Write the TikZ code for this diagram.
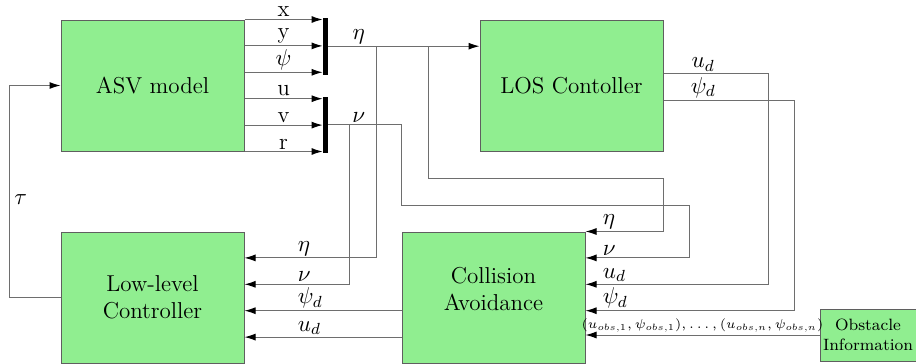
\RequirePackage{fix-cm}
\documentclass[tikz,border=0pt]{standalone}
\usepackage{amsmath}
\usepackage{tikz}
\usetikzlibrary{arrows.meta, positioning, calc}
\definecolor{boxgreen}{RGB}{144,238,144}
\definecolor{boxframe}{RGB}{95,95,95}
\definecolor{sigline}{RGB}{110,110,110}
\newcommand{\blockfont}{\fontsize{11.5}{13.5}\selectfont}
\newcommand{\smallblockfont}{\fontsize{8.2}{9.7}\selectfont}
\tikzset{
  block/.style={rectangle, draw=boxframe, fill=boxgreen, line width=0.5pt,
    minimum width=91.5pt, minimum height=65.5pt, inner sep=0pt,
    align=center, font=\blockfont},
  bus/.style={rectangle, fill=black, minimum width=2.5pt, inner sep=0pt},
  sig/.style={-{Latex[length=5.5pt,width=3.5pt,black]}, color=sigline, line width=0.5pt},
  lbl/.style={font=\blockfont, inner sep=1pt, text=black}
}

\begin{document}
\begin{tikzpicture}[x=0.5pt, y=-0.5pt]
  \useasboundingbox (0,0) rectangle (916,364);
  % ── Blocks ──
  \node[block] (asv) at (152.5,85.5) {ASV model};
  \node[block] (los) at (571.5,85.5) {LOS Contoller};
  \node[block, text depth=-3.5pt] (llc) at (152.5,297.5) {Low-level\\Controller};
  \node[block, text depth=9pt] (ca)  at (493.5,297.5) {Collision\\Avoidance};
  \node[block, minimum width=48pt, minimum height=26pt, font=\smallblockfont]
    (obs) at (868,335) {Obstacle\\Information};
  % ── Bus bars ──
  \node[bus, minimum height=28.5pt] (etabus) at (325.5,46.2) {};
  \node[bus, minimum height=28pt] (nubus) at (325.5,124.8) {};
  % ── Ports ──
  \foreach \f [count=\i] in {0.2,0.4,0.6,0.8}
    \coordinate (llin\i) at ($(llc.north east)!\f!(llc.south east)$);
  \foreach \f [count=\i] in {0,0.2,0.4,0.6}
    \coordinate (cain\i) at ($(ca.north east)!\f!(ca.south east)$);
  \coordinate (losud) at ($(los.north east)!0.41!(los.south east)$);
  \coordinate (lospsi) at ($(los.north east)!0.61!(los.south east)$);
  \coordinate (xnl) at (349,0);
  \coordinate (xel) at (376,0);
  \coordinate (xnc) at (401,0);
  \coordinate (xec) at (428,0);
  \coordinate (xud) at (768,0);
  \coordinate (xpsi) at (794,0);
  \coordinate (taux) at (9,0);
  \coordinate (etaturn) at (663,178);
  \coordinate (nuturn) at (689,205);
  % ── ASV outputs ──
  \foreach \f/\s in {0/x, 0.2/y, 0.4/$\psi$}
    \draw[sig] ($(asv.north east)!\f!(asv.south east)$) coordinate (o)
      -- (o -| etabus.west) node[midway, above, lbl] {\s};
  \foreach \f/\s in {0.6/u, 0.8/v, 1/r}
    \draw[sig] ($(asv.north east)!\f!(asv.south east)$) coordinate (o)
      -- (o -| nubus.west) node[midway, above, lbl] {\s};
  % ── eta and nu ──
  \draw[sig] (etabus.east) -- (etabus.east -| los.west)
    node[pos=0.2, above, lbl] {$\eta$};
  \draw[sig] (etabus.east -| xel) |- (llin1);
  \draw[sig] (etabus.east -| xec) |- (etaturn) |- (cain1);
  \draw[sig] (nubus.east) -- (nubus.east -| xnc)
    node[pos=0.42, above, lbl] {$\nu$} |- (nuturn) |- (cain2);
  \draw[sig] (nubus.east -| xnl) |- (llin2);
  % ── LOS outputs ──
  \draw[sig] (losud) -- (losud -| xud) node[pos=0.38, above, lbl] {$u_d$} |- (cain3);
  \draw[sig] (lospsi) -- (lospsi -| xpsi) node[pos=0.305, above, lbl] {$\psi_d$} |- (cain4);
  % ── Collision avoidance outputs ──
  \draw[sig] ($(ca.north west)!0.6!(ca.south west)$) -- (llin3);
  \draw[sig] ($(ca.north west)!0.8!(ca.south west)$) -- (llin4);
  \draw[sig] (obs.west) -- (obs.west -| ca.east)
    node[midway, above, lbl, font=\fontsize{6.5}{8}\selectfont]
    {$(u_{obs,1},\psi_{obs,1}),\ldots,(u_{obs,n},\psi_{obs,n})$};
  % ── Input labels ──
  \foreach \s [count=\i] in {\eta,\nu,\psi_d,u_d}
    \node[lbl, anchor=south west] (lllbl\i) at ($(llin\i)+(51,0)$) {$\s$};
  \foreach \s [count=\i] in {\eta,\nu,u_d,\psi_d}
    \node[lbl, anchor=south west] (calbl\i) at ($(cain\i)+(15,0)$) {$\s$};
  % ── tau feedback ──
  \draw[sig] (llc.west) -- (llc.west -| taux) |- (asv.west);
  \node[lbl, right] (taulbl) at (12,200) {$\tau$};
\end{tikzpicture}
\end{document}
